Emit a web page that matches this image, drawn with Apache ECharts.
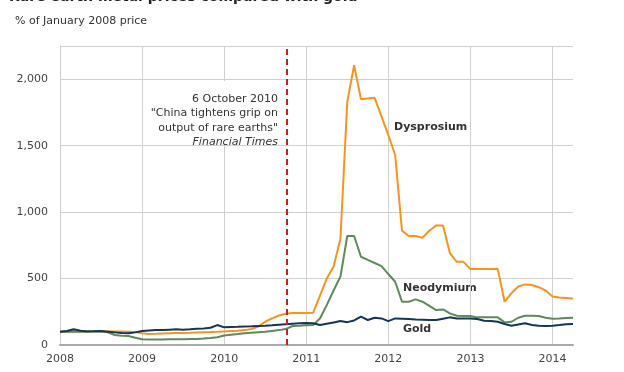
<!DOCTYPE html>
<html>
<head>
<meta charset="utf-8">
<script src="https://cdn.jsdelivr.net/npm/echarts@6/dist/echarts.min.js"></script>
<style>
html,body{margin:0;padding:0;background:#fff;}
#c{width:624px;height:372px;}
</style>
</head>
<body>
<div id="c"></div>
<script>
// Monthly values, Jan 2008 .. Apr 2014, % of January 2008 price
const startYear = 2008;
const dysprosium = [100,101,102,102,103,104,104,103,102,101,100,98,
  88,83,84,86,88,90,91,92,94,96,97,99,
  102,105,108,112,120,138,175,200,222,235,240,240,
  240,242,370,500,590,800,1830,2105,1850,1855,1860,1720,
  1580,1430,860,820,820,807,860,900,900,692,626,626,
  571,571,572,572,573,326,390,440,456,452,435,410,
  365,358,354,350];
const neodymium = [100,100,102,100,101,103,102,95,75,70,68,55,
  43,42,42,42,43,43,44,45,45,48,52,58,
  72,78,82,88,92,96,100,106,112,120,143,145,
  148,150,200,300,410,515,820,820,664,640,617,594,
  534,476,326,326,343,326,295,263,268,238,220,218,
  218,208,208,208,208,170,175,205,220,220,218,205,
  198,200,204,205];
const gold = [100,105,118,108,102,103,105,100,95,90,88,95,
  105,110,113,112,115,118,115,118,122,125,130,150,
  133,135,137,140,141,143,145,148,152,156,160,163,
  165,163,150,160,170,180,172,185,213,188,205,200,
  180,200,198,196,192,190,188,188,198,208,200,200,
  200,195,183,180,175,158,145,155,163,150,145,143,
  145,150,157,158];
const yearTicks = [2008,2009,2010,2011,2012,2013,2014];
const eventDate = 2010 + (9 + 5/31) / 12; // 6 October 2010
const eventText = ['6 October 2010', '"China tightens grip on', 'output of rare earths"', 'Financial Times'];

const toPairs = arr => arr.map((v, i) => [startYear + i / 12, v]);
const FONT = 'DejaVu Sans';

const chart = echarts.init(document.getElementById('c'));
chart.setOption({
  animation: false,
  backgroundColor: '#fff',
  grid: {left: 60, right: 51, top: 46, bottom: 27, containLabel: false},
  xAxis: {
    type: 'value', min: 2008, max: startYear + (dysprosium.length - 1) / 12, interval: 1,
    axisLine: {show: true, lineStyle: {color: '#aaa', width: 2}},
    axisTick: {show: false},
    splitLine: {show: true, showMaxLine: false, lineStyle: {color: '#d0d0d0', width: 1}},
    axisLabel: {
      fontFamily: FONT, fontSize: 11, color: '#444', margin: 9,
      formatter: v => yearTicks.indexOf(Math.round(v * 1000) / 1000) >= 0 ? String(v) : ''
    }
  },
  yAxis: {
    type: 'value', min: 0, max: 2250, interval: 500,
    axisLine: {show: true, lineStyle: {color: '#ccc', width: 1}},
    axisTick: {show: false},
    splitLine: {show: true, lineStyle: {color: '#d0d0d0', width: 1}},
    axisLabel: {
      fontFamily: FONT, fontSize: 11, color: '#444', margin: 12,
      formatter: v => v > 2000 ? '' : v.toLocaleString('en-US')
    }
  },
  series: [
    {name: 'Dysprosium', type: 'line', data: toPairs(dysprosium), showSymbol: false,
     lineStyle: {color: '#f7941e', width: 2}, itemStyle: {color: '#f7941e'}, z: 2,
     markLine: {silent: true, symbol: 'none', label: {show: false},
       lineStyle: {color: '#cc1f1f', width: 2, type: [6, 4]},
       data: [{xAxis: eventDate}]}},
    {name: 'Neodymium', type: 'line', data: toPairs(neodymium), showSymbol: false,
     lineStyle: {color: '#5f8a5b', width: 2}, itemStyle: {color: '#5f8a5b'}, z: 3},
    {name: 'Gold', type: 'line', data: toPairs(gold), showSymbol: false,
     lineStyle: {color: '#14365a', width: 2}, itemStyle: {color: '#14365a'}, z: 4}
  ],
  graphic: [
    {type: 'text', left: 9, top: -10, style: {text: 'Rare earth metal prices compared with gold', fontFamily: FONT, fontSize: 14, fontWeight: 'bold', fill: '#222'}},
    {type: 'text', left: 15, top: 16, style: {text: '% of January 2008 price', fontFamily: FONT, fontSize: 11, fill: '#333'}},
    {type: 'rect', shape: {x: 146, y: 81, width: 138, height: 63}, style: {fill: '#fff'}, z: 50},
    {type: 'text', x: 278, y: 99, z: 51, style: {text: eventText[0], fontFamily: FONT, fontSize: 11, fill: '#333', align: 'right', verticalAlign: 'middle'}},
    {type: 'text', x: 278, y: 113.5, z: 51, style: {text: eventText[1], fontFamily: FONT, fontSize: 11, fill: '#333', align: 'right', verticalAlign: 'middle'}},
    {type: 'text', x: 278, y: 128, z: 51, style: {text: eventText[2], fontFamily: FONT, fontSize: 11, fill: '#333', align: 'right', verticalAlign: 'middle'}},
    {type: 'text', x: 278, y: 142.5, z: 51, style: {text: eventText[3], fontFamily: FONT, fontSize: 11, fontStyle: 'italic', fill: '#333', align: 'right', verticalAlign: 'middle'}},
    {type: 'text', x: 394, y: 127, style: {text: 'Dysprosium', fontFamily: FONT, fontSize: 11, fontWeight: 'bold', fill: '#333', verticalAlign: 'middle'}},
    {type: 'text', x: 403, y: 288, style: {text: 'Neodymium', fontFamily: FONT, fontSize: 11, fontWeight: 'bold', fill: '#333', verticalAlign: 'middle'}},
    {type: 'text', x: 403, y: 329, style: {text: 'Gold', fontFamily: FONT, fontSize: 11, fontWeight: 'bold', fill: '#333', verticalAlign: 'middle'}}
  ]
});
</script>
</body>
</html>
